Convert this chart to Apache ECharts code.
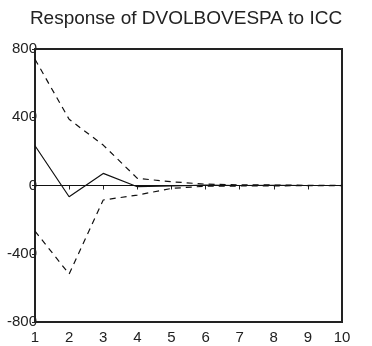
<!DOCTYPE html>
<html>
<head>
<meta charset="utf-8">
<script src="https://cdn.jsdelivr.net/npm/echarts@6/dist/echarts.min.js"></script>
<style>
    html, body { margin: 0; padding: 0; background: #fff; }
    #chart { width: 372px; height: 346px; }
</style>
</head>
<body>
<div id="chart"></div>
<script>
    // periods and impulse response with +/- 2 s.e. bands
    var periods = [1, 2, 3, 4, 5, 6, 7, 8, 9, 10];
    var response = [233, -66, 71, -7, -3, 2, 0, 1, 0, 0];
    var upper = [740, 388, 237, 42, 22, 8, 4, 3, 1, 1];
    var lower = [-267, -519, -85, -56, -17, -4, -3, -2, -1, -1];

    function pairs(vals) {
        return periods.map(function (p, i) { return [p, vals[i]]; });
    }

    var chart = echarts.init(document.getElementById('chart'));
    var axisText = { color: '#222', fontSize: 15, fontFamily: 'Liberation Sans, Arial, sans-serif' };
    chart.setOption({
        animation: false,
        title: {
            text: 'Response of DVOLBOVESPA to ICC',
            left: 'center',
            top: 4,
            textStyle: { color: '#222', fontSize: 19, fontWeight: 'normal', fontFamily: 'Liberation Sans, Arial, sans-serif' }
        },
        grid: {
            left: 35, right: 30, top: 49, bottom: 24,
            show: true, borderColor: '#222', borderWidth: 2
        },
        xAxis: {
            type: 'value', min: 1, max: 10, interval: 1,
            splitLine: { show: false },
            axisLine: { show: false },
            axisTick: { show: true, length: 4, lineStyle: { color: '#222' } },
            axisLabel: Object.assign({ margin: 8 }, axisText)
        },
        yAxis: {
            type: 'value', min: -800, max: 800, interval: 400,
            splitLine: { show: false },
            axisLine: { show: false },
            axisTick: { show: true, length: 3, lineStyle: { color: '#222' } },
            axisLabel: Object.assign({ margin: -2 }, axisText)
        },
        series: [
            {
                type: 'line', data: pairs(response), symbol: 'none',
                lineStyle: { color: '#111', width: 1.2 },
                markLine: {
                    silent: true, symbol: 'none', label: { show: false },
                    lineStyle: { color: '#111', width: 1, type: 'solid' },
                    data: [{ yAxis: 0 }]
                }
            },
            {
                type: 'line', data: pairs(upper), symbol: 'none',
                lineStyle: { color: '#111', width: 1.2, type: [6, 5] }
            },
            {
                type: 'line', data: pairs(lower), symbol: 'none',
                lineStyle: { color: '#111', width: 1.2, type: [6, 5] }
            }
        ]
    });
</script>
</body>
</html>
